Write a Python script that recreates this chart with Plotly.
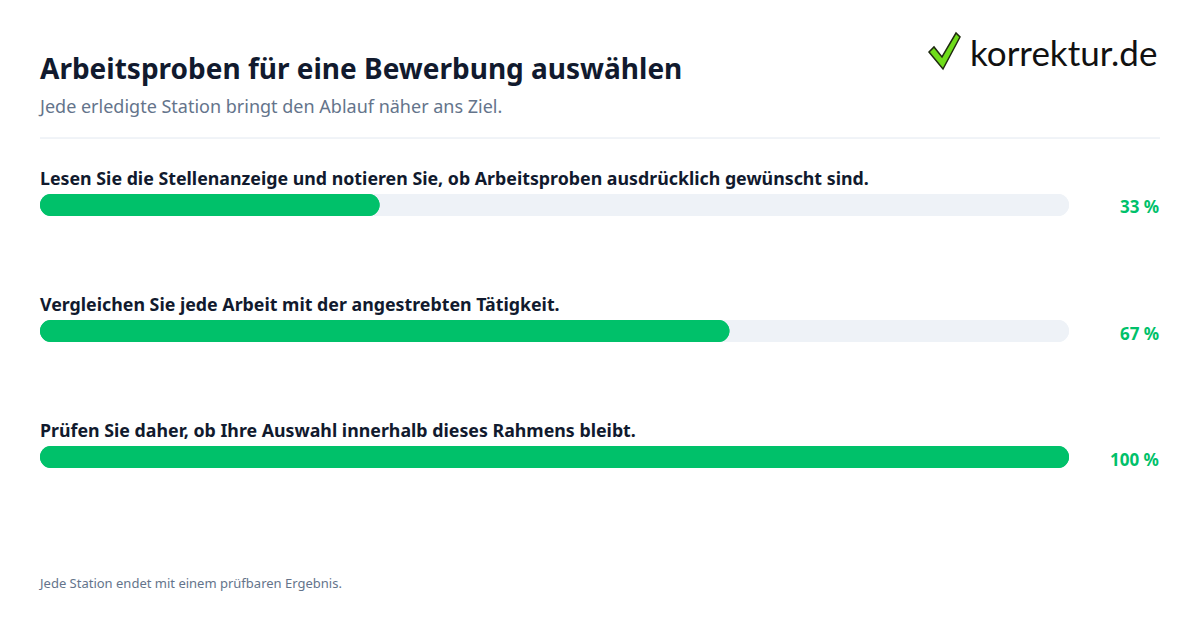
import plotly.graph_objects as go

steps = [
    "Lesen Sie die Stellenanzeige und notieren Sie, ob Arbeitsproben ausdrücklich gewünscht sind.",
    "Vergleichen Sie jede Arbeit mit der angestrebten Tätigkeit.",
    "Prüfen Sie daher, ob Ihre Auswahl innerhalb dieses Rahmens bleibt.",
]
progress = [33, 67, 100]
track_max = [100, 100, 100]
positions = [0, 1, 2]

title = "Arbeitsproben für eine Bewerbung auswählen"
subtitle = "Jede erledigte Station bringt den Ablauf näher ans Ziel."
footer = "Jede Station endet mit einem prüfbaren Ergebnis."

GREEN = "#00c16a"
TRACK = "#eef2f7"
DARK = "#111a2e"
GREY = "#64748b"
FONT = "Noto Sans"

W, H = 1200, 630
BAR_PX = 22
ROW_PX = 126
bw = BAR_PX / ROW_PX

fig = go.Figure()

def rounded_bars(values, color):
    # forward bar: rounded at value end
    fig.add_trace(go.Bar(
        x=values, y=positions, orientation="h", base=[0] * len(values),
        width=bw, marker=dict(color=color, cornerradius=BAR_PX / 2, line=dict(width=0)),
        hoverinfo="skip", showlegend=False,
    ))
    # reverse bar: rounded at zero end
    fig.add_trace(go.Bar(
        x=[-v for v in values], y=positions, orientation="h", base=values,
        width=bw, marker=dict(color=color, cornerradius=BAR_PX / 2, line=dict(width=0)),
        hoverinfo="skip", showlegend=False,
    ))

rounded_bars(track_max, TRACK)
rounded_bars(progress, GREEN)

x0, x1 = 40 / W, 1069 / W
top_px, bot_px = 205 - ROW_PX / 2, 457 + ROW_PX / 2

fig.update_layout(
    width=W, height=H,
    margin=dict(l=0, r=0, t=0, b=0),
    paper_bgcolor="white", plot_bgcolor="white",
    barmode="overlay",
    font=dict(family=FONT, color=DARK),
    xaxis=dict(domain=[x0, x1], range=[0, 100], visible=False, fixedrange=True),
    yaxis=dict(domain=[1 - bot_px / H, 1 - top_px / H], range=[2.5, -0.5],
               visible=False, fixedrange=True),
)

ann = []
for i, (s, v) in enumerate(zip(steps, progress)):
    ann.append(dict(text=s, xref="paper", x=38 / W, xanchor="left",
                    yref="y", y=positions[i], yanchor="middle", yshift=27,
                    showarrow=False, font=dict(size=17.8, color=DARK, family=FONT, weight=700)))
    ann.append(dict(text=f"{v} %", xref="paper", x=1161 / W, xanchor="right",
                    yref="y", y=positions[i], yanchor="middle", yshift=-2,
                    showarrow=False, font=dict(size=17, color=GREEN, family=FONT, weight=700)))

ann += [
    dict(text=title, xref="paper", yref="paper", x=38 / W, y=1 - 68 / H,
         xanchor="left", yanchor="middle", showarrow=False,
         font=dict(size=28, color=DARK, family=FONT, weight=700)),
    dict(text=subtitle, xref="paper", yref="paper", x=36 / W, y=1 - 106 / H,
         xanchor="left", yanchor="middle", showarrow=False,
         font=dict(size=18, color=GREY, family=FONT)),
    dict(text=footer, xref="paper", yref="paper", x=36 / W, y=1 - 583 / H,
         xanchor="left", yanchor="middle", showarrow=False,
         font=dict(size=13, color=GREY, family=FONT)),
    dict(text="korrektur.de", xref="paper", yref="paper", x=968 / W, y=1 - 52 / H,
         xanchor="left", yanchor="middle", showarrow=False,
         font=dict(size=35, color="#111111", family="Lato")),
]
fig.update_layout(annotations=ann)

def px(x, y):
    return f"{x / W:.5f},{1 - y / H:.5f}"

check = ("M " + px(929, 52) + " L " + px(934, 47) + " L " + px(942, 57) + " L "
         + px(956, 33) + " L " + px(960, 37) + " L " + px(943, 69) + " Z")
fig.update_layout(shapes=[
    dict(type="line", xref="paper", yref="paper", x0=40 / W, x1=1160 / W,
         y0=1 - 138 / H, y1=1 - 138 / H, line=dict(color="#e2e8f0", width=1)),
    dict(type="path", xref="paper", yref="paper", path=check,
         fillcolor="#6fdc1a", line=dict(color="#1f2a10", width=1.5)),
])

fig.write_html("out.html", config={"displayModeBar": False},
               post_script="document.body.style.margin='0';")
